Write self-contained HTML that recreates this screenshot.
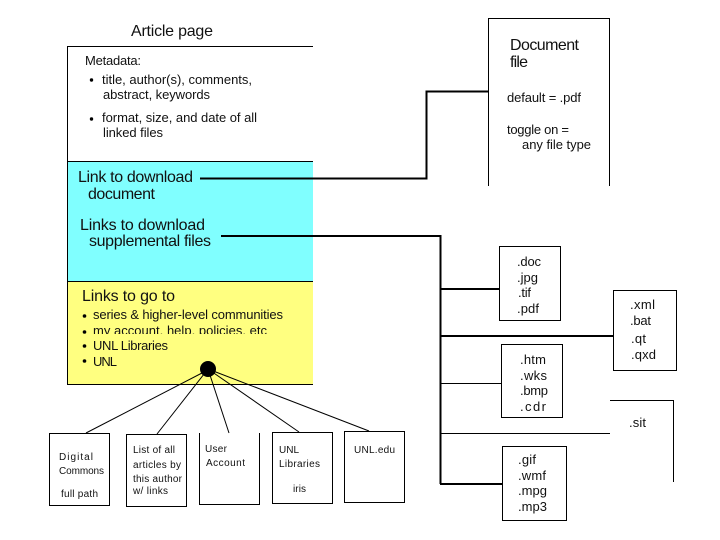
<!DOCTYPE html>
<html>
<head>
<meta charset="utf-8">
<style>
html,body{margin:0;padding:0;background:#fff;width:720px;height:540px;overflow:hidden}
svg{display:block}
text{font-family:"Liberation Sans",Arial,sans-serif;fill:#111;font-size:13px}
.l{font-size:16px}
.s{font-size:10px}
</style>
</head>
<body>
<svg width="720" height="540" viewBox="0 0 720 540" xmlns="http://www.w3.org/2000/svg">
<rect x="67" y="161" width="246" height="120" fill="#80ffff"/>
<rect x="67" y="281" width="246" height="103" fill="#ffff80"/>
<g fill="none" stroke="#000" stroke-width="1">
<path d="M313 46.5H67.5V384.5H313"/>
<path d="M68 161.5H313M68 281.5H313"/>
<path d="M488.5 186V18.5H609.5V186"/>
<rect x="499.5" y="246.5" width="61" height="74"/>
<rect x="613.5" y="290.5" width="63" height="80"/>
<rect x="501.5" y="344.5" width="61" height="73"/>
<rect x="502.5" y="446.5" width="64" height="74"/>
<path d="M610 400.5H673.5V482"/>
<rect x="49.5" y="433.5" width="60" height="72"/>
<rect x="126.5" y="434.5" width="60" height="72"/>
<path d="M199.5 433V504.5H259.5V433"/>
<rect x="272.5" y="432.5" width="60" height="71"/>
<rect x="344.5" y="431.5" width="60" height="71"/>
<path d="M202 373L86 433M208 369L157 434M208 369L229 433M208 369L299 432M208 369L369 431"/>
<path d="M441 383.5H501.5M441 433.5H610"/>
</g>
<g fill="none" stroke="#000" stroke-width="2">
<path d="M200 178.5H426.5V91.5H488"/>
<path d="M221 236H440.5V484M440 289H499M440 336H613M440 484H502"/>
</g>
<circle cx="208" cy="369" r="8" fill="#000"/>
<g fill="#000">
<circle cx="91.5" cy="80" r="1.7"/><circle cx="91.5" cy="119" r="1.7"/>
<circle cx="84.5" cy="316" r="1.8"/><circle cx="84.5" cy="332" r="1.8"/><circle cx="84.5" cy="346" r="1.8"/><circle cx="84.5" cy="361" r="1.8"/>
</g>
<text class="l" x="131" y="36" textLength="82">Article page</text>
<text x="85" y="65" textLength="56">Metadata:</text>
<text x="102" y="84" textLength="150">title, author(s), comments,</text>
<text x="103" y="99" textLength="107">abstract, keywords</text>
<text x="102" y="122" textLength="155">format, size, and date of all</text>
<text x="103" y="137" textLength="60">linked files</text>
<text class="l" x="78" y="182" textLength="115">Link to download</text>
<text class="l" x="88" y="199" textLength="67">document</text>
<text class="l" x="80" y="230" textLength="125">Links to download</text>
<text class="l" x="89" y="246" textLength="122">supplemental files</text>
<text class="l" x="82" y="301" textLength="93">Links to go to</text>
<text x="93" y="319" textLength="190">series &amp; higher-level communities</text>
<text x="93" y="335" textLength="174">my account, help, policies, etc</text>
<rect x="90" y="334" width="185" height="5" fill="#ffff80"/>
<text x="93" y="350" textLength="75">UNL Libraries</text>
<text x="93" y="366" textLength="24">UNL</text>
<text class="l" x="510" y="50" textLength="69">Document</text>
<text class="l" x="510" y="67" textLength="18">file</text>
<text x="507" y="102" textLength="74">default = .pdf</text>
<text x="507" y="134" textLength="62">toggle on =</text>
<text x="522" y="149" textLength="69">any file type</text>
<text x="517" y="266" textLength="24">.doc</text>
<text x="517" y="282" textLength="21">.jpg</text>
<text x="518" y="297" textLength="13">.tif</text>
<text x="517" y="313" textLength="22">.pdf</text>
<text x="630" y="309" textLength="25">.xml</text>
<text x="630" y="325" textLength="21">.bat</text>
<text x="631" y="343" textLength="15">.qt</text>
<text x="631" y="359" textLength="25">.qxd</text>
<text x="520" y="364" textLength="26">.htm</text>
<text x="520" y="380" textLength="27">.wks</text>
<text x="520" y="395" textLength="28">.bmp</text>
<text x="520" y="411" textLength="26">.cdr</text>
<text x="629" y="427" textLength="17">.sit</text>
<text x="518" y="464" textLength="18">.gif</text>
<text x="518" y="480" textLength="28">.wmf</text>
<text x="518" y="495" textLength="29">.mpg</text>
<text x="518" y="511" textLength="29">.mp3</text>
<text class="s" x="59" y="460" textLength="34">Digital</text>
<text class="s" x="59" y="474" textLength="45">Commons</text>
<text class="s" x="61" y="497" textLength="37">full path</text>
<text class="s" x="133" y="453" textLength="42">List of all</text>
<text class="s" x="133" y="468" textLength="48">articles by</text>
<text class="s" x="133" y="482" textLength="49">this author</text>
<text class="s" x="133" y="494" textLength="35">w/ links</text>
<text class="s" x="205" y="452" textLength="22">User</text>
<text class="s" x="206" y="466" textLength="39">Account</text>
<text class="s" x="279" y="453" textLength="20">UNL</text>
<text class="s" x="279" y="467" textLength="41">Libraries</text>
<text class="s" x="293" y="492" textLength="13">iris</text>
<text class="s" x="354" y="453" textLength="41">UNL.edu</text>
</svg>
</body>
</html>
